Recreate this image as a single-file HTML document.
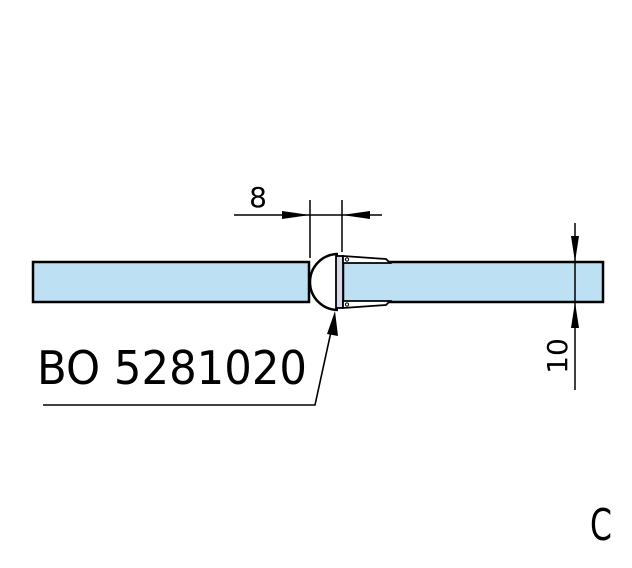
<!DOCTYPE html>
<html><head><meta charset="utf-8"><style>
html,body{margin:0;padding:0;background:#fff;}
svg{display:block;}
text{font-family:"DejaVu Sans","Liberation Sans",sans-serif;fill:#000;}
</style></head><body>
<svg width="632" height="568" viewBox="0 0 632 568" xmlns="http://www.w3.org/2000/svg">
<rect x="33" y="262" width="276" height="40" fill="#bde0f2" stroke="#000" stroke-width="2.5"/>
<rect x="343" y="262" width="260" height="40" fill="#bde0f2" stroke="#000" stroke-width="2.5"/>
<path d="M338 254 A27 27 0 0 0 338 310" fill="#fff" stroke="#000" stroke-width="2.5"/>
<rect x="336" y="256" width="7" height="52" fill="#d8d8ec" stroke="#000" stroke-width="1.8"/>
<path d="M343 256 L386 259 L390 263 L343 263 Z" fill="#fff" stroke="#000" stroke-width="1.8"/>
<path d="M343 308 L386 305 L390 301 L343 301 Z" fill="#fff" stroke="#000" stroke-width="1.8"/>
<circle cx="347" cy="259.5" r="1.6" fill="none" stroke="#000" stroke-width="1"/>
<circle cx="347" cy="304.5" r="1.6" fill="none" stroke="#000" stroke-width="1"/>
<line x1="310" y1="200" x2="310" y2="258" stroke="#000" stroke-width="1.5"/>
<line x1="342" y1="200" x2="342" y2="252" stroke="#000" stroke-width="1.5"/>
<line x1="234" y1="215" x2="382" y2="215" stroke="#000" stroke-width="1.5"/>
<polygon points="310,215 282,211 282,219" fill="#000"/>
<polygon points="342,215 370,211 370,219" fill="#000"/>
<text x="258" y="207" font-size="28" text-anchor="middle">8</text>
<line x1="575" y1="223" x2="575" y2="390" stroke="#000" stroke-width="1.5"/>
<polygon points="575,262 571,236 579,236" fill="#000"/>
<polygon points="575,302 571,328 579,328" fill="#000"/>
<text transform="translate(567,356) rotate(-90)" font-size="28" text-anchor="middle">10</text>
<text x="37" y="384" font-size="46" textLength="270" lengthAdjust="spacingAndGlyphs">BO 5281020</text>
<polyline points="43,405 315,405 334,318" fill="none" stroke="#000" stroke-width="1.6"/>
<polygon points="335,311 327,334 338,336" fill="#000"/>
<text x="590" y="540" font-size="44" textLength="22" lengthAdjust="spacingAndGlyphs">C</text>
</svg>
</body></html>
